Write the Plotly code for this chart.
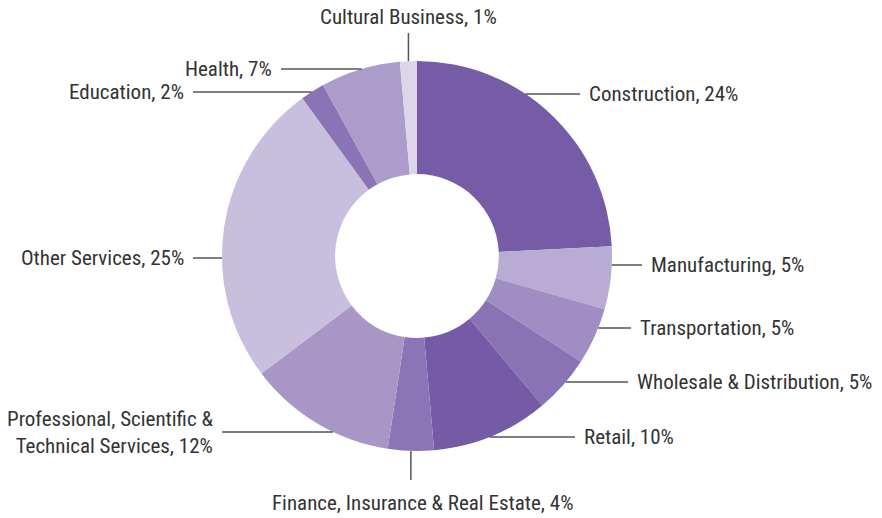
import math
import plotly.graph_objects as go

# ---- data ----
sectors = ["Construction", "Manufacturing", "Transportation", "Wholesale & Distribution",
           "Retail", "Finance, Insurance & Real Estate",
           "Professional, Scientific &<br>Technical Services", "Other Services",
           "Education", "Health", "Cultural Business"]
shares = [24.2, 5.2, 4.7, 4.8, 9.7, 3.8, 12.3, 25.3, 2.0, 6.6, 1.4]
shown_pct = [24, 5, 5, 5, 10, 4, 12, 25, 2, 7, 1]
colors = ["#765ba6", "#b8acd4", "#9f8dc3", "#8a73b5", "#755aa5", "#8c75b6",
          "#a897c6", "#c8bedd", "#8b74b5", "#ab9cc9", "#ddd6ea"]

# ---- layout (pixels) ----
W, H = 882, 518
CX, CY, R = 417, 256, 195
# label placement: side, label y (px), line end x (px)
label_layout = [
    ("right", 94, 580), ("right", 265, 642), ("right", 328, 631), ("right", 382, 628),
    ("right", 437, 575), ("bottom", 480, None), ("left", 432, 222), ("left", 258, 193),
    ("left", 92, 193), ("left", 69, 281), ("top", 33, None),
]

def px(x):
    return x / W

def py(y):
    return 1 - y / H

fig = go.Figure(go.Pie(
    labels=sectors, values=shares, sort=False, direction="clockwise", rotation=0,
    hole=0.42, marker=dict(colors=colors, line=dict(width=0)),
    textinfo="none", hoverinfo="label+percent", showlegend=False,
    domain=dict(x=[px(CX - R), px(CX + R)], y=[py(CY + R), py(CY - R)]),
))

font = dict(family="Roboto Condensed, Roboto", size=21, color="#333333")
line = dict(color="#555555", width=1.5)
shapes, annotations = [], []
cum = 0
total = sum(shares)
for name, val, pct, (side, ly, lx) in zip(sectors, shares, shown_pct, label_layout):
    mid = (cum + val / 2) / total * 2 * math.pi
    cum += val
    text = f"{name}, {pct}%"
    if side in ("left", "right"):
        dx = math.sqrt(max(R**2 - (ly - CY) ** 2, 0))
        x0 = CX + dx if side == "right" else CX - dx
        shapes.append(dict(type="line", xref="paper", yref="paper",
                           x0=px(x0), x1=px(lx), y0=py(ly), y1=py(ly), line=line))
        annotations.append(dict(xref="paper", yref="paper",
                                x=px(lx + 7) if side == "right" else px(lx - 7), y=py(ly),
                                text=text, showarrow=False, font=font,
                                xanchor="left" if side == "right" else "right",
                                yanchor="middle", align="right"))
    else:
        ex = CX + R * math.sin(mid)
        ey = CY - R * math.cos(mid)
        shapes.append(dict(type="line", xref="paper", yref="paper",
                           x0=px(ex), x1=px(ex), y0=py(ey), y1=py(ly), line=line))
        if side == "top":
            annotations.append(dict(xref="paper", yref="paper", x=px(ex), y=py(ly - 16),
                                    text=text, showarrow=False, font=font,
                                    xanchor="center", yanchor="middle"))
        else:
            annotations.append(dict(xref="paper", yref="paper", x=px(ex + 12), y=py(ly + 23),
                                    text=text, showarrow=False, font=font,
                                    xanchor="center", yanchor="middle"))

fig.update_layout(width=W, height=H, margin=dict(l=0, r=0, t=0, b=0),
                  paper_bgcolor="white", plot_bgcolor="white",
                  shapes=shapes, annotations=annotations)
fig.write_html("out.html", config={"displayModeBar": False},
               post_script="document.body.style.margin='0';")
